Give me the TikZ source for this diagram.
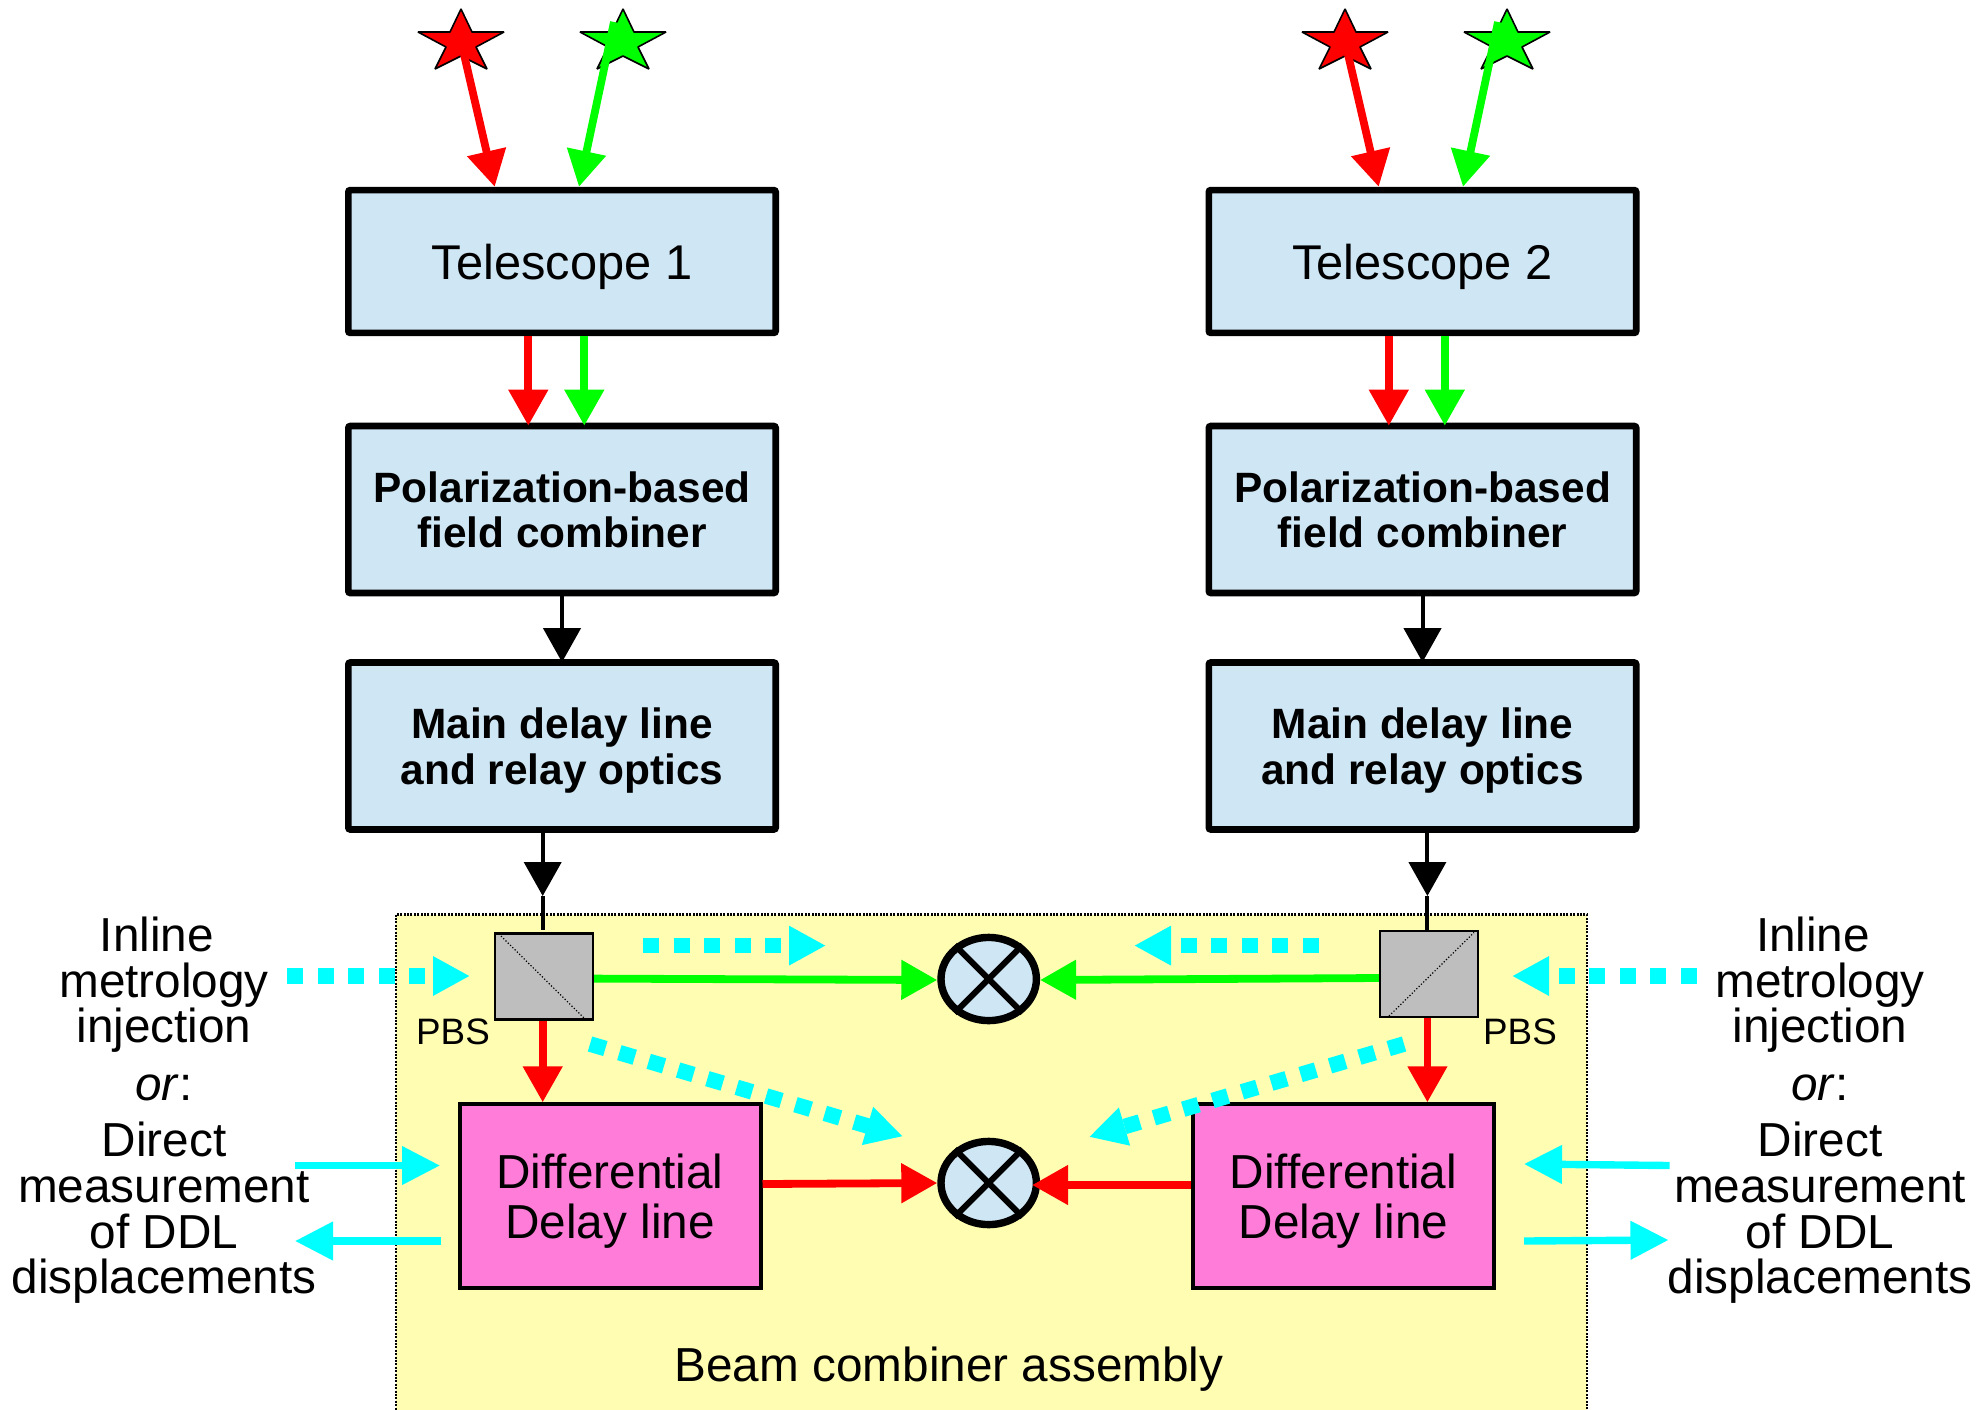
\documentclass[tikz,border=0pt]{standalone}
\usepackage{fontspec}
\setmainfont{Liberation Sans}
\usetikzlibrary{arrows.meta,calc,shapes.geometric}

\definecolor{boxblue}{RGB}{207,230,244}
\definecolor{ddlpink}{RGB}{255,125,217}
\definecolor{bcayellow}{RGB}{255,253,178}
\definecolor{pbsgray}{RGB}{190,190,190}
\definecolor{metrocyan}{RGB}{0,255,255}

\tikzset{
	optbox/.style={draw,line width=3.3pt,fill=boxblue,rounded corners=1pt,minimum width=213.7pt,text depth=0pt,align=center},
	ddlbox/.style={draw,line width=2pt,fill=ddlpink,minimum width=150.5pt,minimum height=91.7pt,text depth=0pt,align=center,font=\fontsize{23.85}{25}\selectfont},
	pbsbox/.style={draw,line width=1.2pt,fill=pbsgray,minimum width=49pt,minimum height=43pt},
	mixer/.style={draw,ellipse,line width=3.7pt,fill=boxblue,minimum width=47.7pt,minimum height=41.6pt,inner sep=0pt},
	caption/.style={align=center,text depth=0pt,font=\fontsize{23.85}{22.8}\selectfont},
	plain/.style={font=\fontsize{18.4}{20}\selectfont},
	beam/.style={line width=3.9pt,-{Triangle[length=18pt,width=19pt]}},
	feed/.style={line width=2pt,-{Triangle[length=17pt,width=18.5pt]}},
	metro/.style={metrocyan,line width=3.7pt,-{Triangle[length=19pt,width=18.5pt]}},
	inject/.style={metrocyan,line width=7.8pt,dash pattern=on 8pt off 7.3pt,-{Triangle[length=18.5pt,width=18.5pt]}},
	startag/.pic={\draw[line width=0.8pt,line join=bevel,fill=#1] (0,0) -- (11,23) -- (43,23) -- (15,38) -- (26,60) -- (0,47) -- (-26,60) -- (-15,38) -- (-43,23) -- (-11,23) -- cycle;},
	startag/.default=red
}

\begin{document}
\begin{tikzpicture}[x=0.5pt,y=-0.5pt]
	\useasboundingbox (0,0) rectangle (1986,1409);
	
	\draw[dash pattern=on 1pt off 0.7pt,line width=1.1pt,fill=bcayellow] (396,914.5) rectangle (1587,1430);
	\node[caption] (bca) at (949,1364) {Beam combiner assembly};
	
	% the two telescope columns
	\foreach \n/\dx/\sx in {1/0/0,2/860.5/884}{
		\coordinate (sr\n) at ({461+\sx},9);
		\coordinate (sg\n) at ({623+\sx},9);
		\pic at (sr\n) {startag={red}};
		\pic at (sg\n) {startag={green}};
		
		\node[optbox,minimum height=71.4pt] (tel\n) at ({562+\dx},261.5) {\fontsize{24.4}{25}\selectfont Telescope \n};
		\node[optbox,minimum height=83.5pt,font=\fontsize{21.2}{22.8}\bfseries\selectfont] (pol\n) at ({562+\dx},509.5) {Polarization-based\\field combiner};
		\node[optbox,minimum height=83.5pt,font=\fontsize{21.2}{22.8}\bfseries\selectfont] (mdl\n) at ({562+\dx},746) {Main delay line\\and relay optics};
		
		\draw[beam,red] ($(sr\n)+(2,41)$) -- ($(tel\n.north)+({-67.3+\sx-\dx},0)$);
		\draw[beam,green] ($(sg\n)+(-9,13)$) -- ($(tel\n.north)+({17+\sx-\dx},0)$);
		\draw[beam,red] ($(tel\n.south)+(-33.7,0)$) -- ($(pol\n.north)+(-33.7,3)$);
		\draw[beam,green] ($(tel\n.south)+(22.3,0)$) -- ($(pol\n.north)+(22.3,3)$);
		\draw[feed] (pol\n) -- ($(mdl\n.north)+(0,3)$);
	}
	
	\node[pbsbox] (pbs1) at (544,976.6) {};
	\node[pbsbox] (pbs2) at (1429,974) {};
	\draw[densely dotted,line width=0.6pt] (501,936) -- (585,1019);
	\draw[densely dotted,line width=0.6pt] (1389,1016) -- (1474,932.5);
	\node[plain] (pbslab1) at (453,1032) {PBS};
	\node[plain] (pbslab2) at (1520,1032) {PBS};
	
	\node[ddlbox] (ddl1) at (610,1196) {Differential\\Delay line};
	\node[ddlbox] (ddl2) at (1343.5,1196) {Differential\\Delay line};
	
	\node[mixer] (mix1) at (988.7,979) {};
	\node[mixer] (mix2) at (988.7,1183) {};
	\foreach \m in {mix1,mix2}{
		\draw[line width=3pt] (\m.45) -- (\m.225);
		\draw[line width=3pt] (\m.135) -- (\m.315);
	}
	
	% main delay lines down to the PBS
	\coordinate (tip1) at (542.7,896);
	\coordinate (tip2) at (1427.4,896);
	\draw[feed] (mdl1.south -| tip1) -- (tip1);
	\draw[feed] (mdl2.south -| tip2) -- (tip2);
	\draw[line width=2pt] (tip1) -- (542.7,930);
	\draw[line width=2pt] (tip2) -- (1427.4,931);
	
	% PBS to mixers and DDL
	\draw[beam,green] ($(pbs1.east)+(0,2)$) -- ($(mix1.west)+(0,1)$);
	\draw[beam,green] ($(pbs2.west)+(0,4)$) -- ($(mix1.east)+(0,1)$);
	\draw[beam,red] (pbs1.south -| tip1) -- (ddl1.north -| tip1);
	\draw[beam,red] (pbs2.south -| tip2) -- (ddl2.north -| tip2);
	\draw[beam,red] ($(ddl1.east)+(0,-12)$) -- (mix2.west);
	\draw[beam,red] ($(ddl2.west)+(0,-11)$) -- ($(mix2.east)+(-8,2)$);
	
	% metrology
	\coordinate (inj1) at (287,976);
	\coordinate (inj2) at (470,976);
	\coordinate (inj3) at (1697,976);
	\coordinate (inj4) at (1512,976);
	\coordinate (inj5) at (643,945.6);
	\coordinate (inj6) at (826,945.6);
	\coordinate (inj7) at (1319,945.6);
	\coordinate (inj8) at (1134,945.6);
	\coordinate (inj9) at (590,1044);
	\coordinate (inj10) at (903,1136.4);
	\coordinate (inj11) at (1404,1044);
	\coordinate (inj12) at (1089,1137);
	\draw[inject] (inj1) -- (inj2);
	\draw[inject] (inj3) -- (inj4);
	\draw[inject] (inj5) -- (inj6);
	\draw[inject] (inj7) -- (inj8);
	\draw[inject] (inj9) -- (inj10);
	\draw[inject] (inj11) -- (inj12);
	
	\coordinate (dir1) at (295,1165.5);
	\coordinate (dir2) at (440,1165.5);
	\coordinate (dir3) at (441,1241);
	\coordinate (dir4) at (295,1241);
	\coordinate (dir5) at (1669.6,1165.5);
	\coordinate (dir6) at (1524,1164);
	\coordinate (dir7) at (1524,1241);
	\coordinate (dir8) at (1668.5,1240);
	\draw[metro] (dir1) -- (dir2);
	\draw[metro] (dir3) -- (dir4);
	\draw[metro] (dir5) -- (dir6);
	\draw[metro] (dir7) -- (dir8);
	
	\node[caption] (inl1) at (164,980) {Inline\hspace*{7pt}\\metrology\\injection};
	\node[caption] (orl) at (164,1088) {\textit{or}:};
	\node[caption] (dirl) at (164,1208) {Direct\\measurement\\of DDL\\displacements};
	\node[caption] (inl2) at (1820,980) {Inline\hspace*{7pt}\\metrology\\injection};
	\node[caption] (orr) at (1820,1088) {\textit{or}:};
	\node[caption] (dirr) at (1820,1208) {Direct\\measurement\\of DDL\\displacements};
\end{tikzpicture}
\end{document}
